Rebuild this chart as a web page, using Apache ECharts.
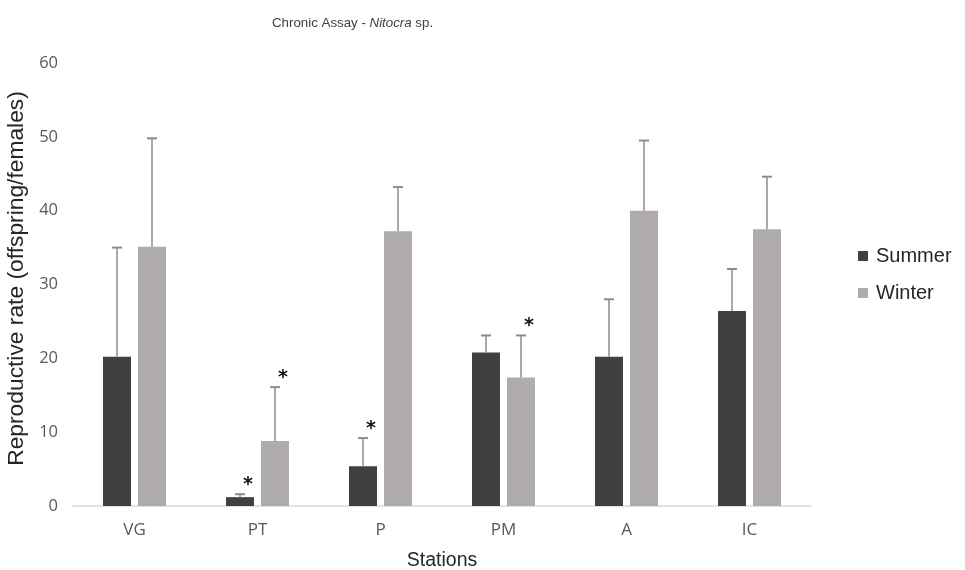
<!DOCTYPE html>
<html>
<head>
<meta charset="utf-8">
<script src="https://cdn.jsdelivr.net/npm/echarts@6/dist/echarts.min.js"></script>
<style>
html, body { margin: 0; padding: 0; background: #fff; }
#chart { width: 965px; height: 570px; }
</style>
</head>
<body>
<div id="chart"></div>
<script>
var stations = ['VG', 'PT', 'P', 'PM', 'A', 'IC'];
var summerMean = [20.2, 1.2, 5.4, 20.8, 20.2, 26.4];
var summerSd = [14.8, 0.4, 3.8, 2.3, 7.8, 5.7];
var summerSig = [0, 1, 1, 0, 0, 0];
var winterMean = [35.1, 8.8, 37.2, 17.4, 40.0, 37.5];
var winterSd = [14.7, 7.3, 6.0, 5.7, 9.5, 7.1];
var winterSig = [0, 1, 0, 1, 0, 0];
var yTicks = [0, 10, 20, 30, 40, 50, 60];

var BAR_W = 28;
var OFFSET = 17.5;

function errorData(mean, sd, sig) {
  var out = [];
  for (var i = 0; i < mean.length; i++) {
    out.push([i, mean[i], mean[i] + sd[i], sig[i]]);
  }
  return out;
}

function errorRender(dx) {
  return function (params, api) {
    var base = api.coord([api.value(0), api.value(1)]);
    var top = api.coord([api.value(0), api.value(2)]);
    var x = base[0] + dx;
    var kids = [{
      type: 'line',
      shape: { x1: x, y1: base[1], x2: x, y2: top[1] },
      style: { stroke: '#8c8c8c', lineWidth: 1.5 }
    }, {
      type: 'line',
      shape: { x1: x - 5, y1: top[1], x2: x + 5, y2: top[1] },
      style: { stroke: '#8c8c8c', lineWidth: 2 }
    }];
    if (api.value(3)) {
      kids.push({
        type: 'text',
        style: {
          text: '*', x: x + 8, y: top[1],
          align: 'center', verticalAlign: 'bottom',
          fontSize: 19, fontWeight: 'bold', fontFamily: 'DejaVu Sans', fill: '#111'
        }
      });
    }
    return { type: 'group', children: kids };
  };
}

var chart = echarts.init(document.getElementById('chart'));
chart.setOption({
  backgroundColor: '#fff',
  animation: false,
  title: {
    text: 'Chronic Assay - {i|Nitocra} sp.',
    left: 267, top: 12,
    textStyle: {
      fontFamily: 'Liberation Sans', fontSize: 13.3, fontWeight: 'normal', color: '#404040',
      rich: { i: { fontStyle: 'italic', fontFamily: 'Liberation Sans', fontSize: 13.3, color: '#404040' } }
    }
  },
  legend: {
    orient: 'vertical',
    left: 853, top: 241,
    itemWidth: 10, itemHeight: 10, itemGap: 17,
    icon: 'rect',
    textStyle: { fontFamily: 'Liberation Sans', fontSize: 20, color: '#262626', padding: [0, 0, 0, 3] },
    data: ['Summer', 'Winter']
  },
  grid: { left: 73, right: 154, top: 63, bottom: 64, containLabel: false, outerBoundsMode: 'none' },
  xAxis: {
    type: 'category',
    data: stations,
    name: 'Stations',
    nameLocation: 'middle',
    nameGap: 45,
    nameTextStyle: { fontFamily: 'Liberation Sans', fontSize: 19.5, color: '#262626' },
    axisLine: { lineStyle: { color: '#d9d9d9', width: 1.5 } },
    axisTick: { show: false },
    axisLabel: { fontFamily: 'Open Sans', fontSize: 17, color: '#595959', margin: 16 }
  },
  yAxis: {
    type: 'value',
    min: yTicks[0], max: yTicks[yTicks.length - 1], interval: 10,
    name: 'Reproductive rate (offspring/females)',
    nameLocation: 'middle',
    nameGap: 44,
    nameTextStyle: { fontFamily: 'Liberation Sans', fontSize: 22.8, color: '#262626', padding: [0, 0, 0, 12] },
    axisLine: { show: false },
    axisTick: { show: false },
    splitLine: { show: false },
    axisLabel: { fontFamily: 'Open Sans', fontSize: 16.5, color: '#595959', margin: 15 }
  },
  series: [{
    name: 'Summer', type: 'bar', data: summerMean,
    barWidth: BAR_W, barGap: '25%',
    itemStyle: { color: '#404040' }
  }, {
    name: 'Winter', type: 'bar', data: winterMean,
    barWidth: BAR_W, barGap: '25%',
    itemStyle: { color: '#b0acab' }
  }, {
    type: 'custom', z: 5,
    data: errorData(summerMean, summerSd, summerSig),
    renderItem: errorRender(-OFFSET),
    encode: { x: 0, y: [1, 2] }
  }, {
    type: 'custom', z: 5,
    data: errorData(winterMean, winterSd, winterSig),
    renderItem: errorRender(OFFSET),
    encode: { x: 0, y: [1, 2] }
  }]
});
</script>
</body>
</html>
